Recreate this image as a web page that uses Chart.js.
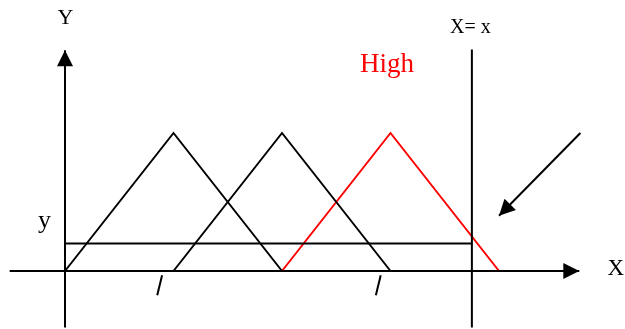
<!DOCTYPE html>
<html>
<head>
<meta charset="utf-8">
<script src="https://cdn.jsdelivr.net/npm/chart.js@4"></script>
<style>
  html, body { margin: 0; padding: 0; background: #fff; }
  #wrap { width: 625px; height: 329px; position: relative; }
</style>
</head>
<body>
<div id="wrap"><canvas id="chart"></canvas></div>
<script>
// membership sets (x of left foot, peak, right foot) and their heights
const setNames = ['Low', 'Medium', 'High'];
const setX = [[0, 1, 2], [1, 2, 3], [2, 3, 4]];
const setY = [0, 1, 0];

// input value X = x and its membership degree y
const inputX = 3.75;
const degreeY = 0.2;

// axes (x range, y range) and pointer arrow
const xAxisX = [-0.51, 4.74];
const yAxisY = [-0.41, 1.6];
const pointerX = [4.75, 4.0];
const pointerY = [1.0, 0.4];

// little slash ticks below the x axis
const slashX = [[0.85, 0.895], [2.865, 2.91]];
const slashY = [-0.175, -0.03];

// text labels
const labelText = ['Y', 'X', 'y', 'X= x', 'High'];
const labelX = [0.005, 5.0, -0.19, 3.548, 2.72];
const labelY = [1.79, -0.03, 0.31, 1.725, 1.44];

const black = '#000';
const red = '#ff0000';

function line(xs, ys, color, extra) {
  return Object.assign({
    data: xs.map((x, i) => ({ x: x, y: ys[i] })),
    showLine: true,
    borderColor: color,
    borderWidth: 2,
    pointRadius: 0,
    fill: false
  }, extra || {});
}

const datasets = [];
datasets.push(line(xAxisX, [0, 0], black, { arrow: true }));
datasets.push(line([0, 0], yAxisY, black, { arrow: true }));
datasets.push(line([inputX, inputX], [yAxisY[0], yAxisY[1] + 0.005], black));
datasets.push(line([0, inputX], [degreeY, degreeY], black));
setX.forEach((xs, i) => {
  datasets.push(line(xs, setY, setNames[i] === 'High' ? red : black, { label: setNames[i] }));
});
datasets.push(line(pointerX, pointerY, black, { arrow: true, borderWidth: 2 }));
slashX.forEach(xs => datasets.push(line(xs, slashY, black, { borderWidth: 2 })));

// filled arrow heads on the last point of flagged datasets
const arrowHeads = {
  id: 'arrowHeads',
  afterDatasetsDraw(chart) {
    const ctx = chart.ctx;
    const xs = chart.scales.x, ys = chart.scales.y;
    chart.data.datasets.forEach(ds => {
      if (!ds.arrow) return;
      const n = ds.data.length;
      const p0 = ds.data[n - 2], p1 = ds.data[n - 1];
      const x0 = xs.getPixelForValue(p0.x), y0 = ys.getPixelForValue(p0.y);
      const x1 = xs.getPixelForValue(p1.x), y1 = ys.getPixelForValue(p1.y);
      const a = Math.atan2(y1 - y0, x1 - x0);
      const len = 16, half = 8;
      ctx.save();
      ctx.translate(x1, y1);
      ctx.rotate(a);
      ctx.beginPath();
      ctx.moveTo(0, 0);
      ctx.lineTo(-len, -half);
      ctx.lineTo(-len, half);
      ctx.closePath();
      ctx.fillStyle = ds.borderColor;
      ctx.fill();
      ctx.restore();
    });
  }
};

// text labels drawn at data coordinates
const textLabels = {
  id: 'textLabels',
  afterDatasetsDraw(chart) {
    const ctx = chart.ctx;
    const xs = chart.scales.x, ys = chart.scales.y;
    const sizes = { 'Y': 22, 'X': 23, 'y': 26, 'X= x': 20, 'High': 27 };
    const align = { 'Y': 'center', 'X': 'left', 'y': 'center', 'X= x': 'left', 'High': 'left' };
    ctx.save();
    ctx.textBaseline = 'alphabetic';
    labelText.forEach((t, i) => {
      ctx.font = sizes[t] + 'px "Liberation Serif", "Times New Roman", serif';
      ctx.fillStyle = t === 'High' ? red : black;
      ctx.textAlign = align[t];
      ctx.fillText(t, xs.getPixelForValue(labelX[i]), ys.getPixelForValue(labelY[i]));
    });
    ctx.restore();
  }
};

new Chart(document.getElementById('chart'), {
  type: 'scatter',
  data: { datasets: datasets },
  options: {
    responsive: true,
    maintainAspectRatio: false,
    animation: false,
    layout: { padding: 0 },
    plugins: {
      legend: { display: false },
      tooltip: { enabled: false }
    },
    scales: {
      x: { type: 'linear', display: false, min: -65 / 108.5, max: 560 / 108.5 },
      y: { type: 'linear', display: false, min: -58 / 138, max: 271 / 138 }
    }
  },
  plugins: [arrowHeads, textLabels]
});
</script>
</body>
</html>
